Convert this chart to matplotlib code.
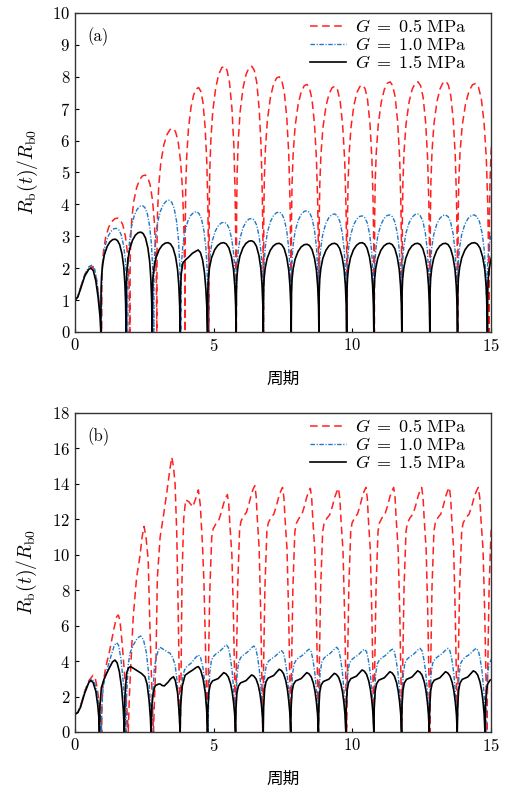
import matplotlib
matplotlib.use("Agg")
import matplotlib.pyplot as plt

plt.rcParams['mathtext.fontset'] = 'cm'
plt.rcParams['font.family'] = ['cmr10', 'DejaVu Serif']
plt.rcParams['axes.formatter.use_mathtext'] = True
plt.rcParams['lines.scale_dashes'] = False

labels = [r'$G\;=\;0.5\ \mathrm{MPa}$', r'$G\;=\;1.0\ \mathrm{MPa}$', r'$G\;=\;1.5\ \mathrm{MPa}$']
colors = ['#ff2020', '#1f78c8', '#000000']

# arch shapes: (fraction of cycle, value / peak)
shape_a = ([0, 0.01, 0.03, 0.07, 0.14, 0.25, 0.36, 0.47, 0.57, 0.66, 0.75, 0.84, 0.91, 0.955, 0.985, 1.0],
           [0, 0.45, 0.6, 0.72, 0.83, 0.92, 0.97, 0.995, 1.0, 0.985, 0.94, 0.84, 0.7, 0.52, 0.3, 0])
shape_a_shoulder = ([0, 0.01, 0.04, 0.1, 0.2, 0.3, 0.45, 0.6, 0.66, 0.74, 0.82, 0.89, 0.94, 0.975, 1.0],
                    [0, 0.45, 0.7, 0.84, 0.88, 0.91, 0.96, 0.99, 1.0, 0.97, 0.88, 0.72, 0.52, 0.3, 0])
shape_b_red = ([0, 0.03, 0.08, 0.15, 0.2, 0.3, 0.4, 0.5, 0.58, 0.65, 0.71, 0.76, 0.8, 0.87, 0.93, 0.97, 1.0],
               [0, 0.25, 0.59, 0.82, 0.855, 0.877, 0.891, 0.928, 0.964, 0.986, 1.0, 0.957, 0.87, 0.746, 0.471, 0.217, 0])
shape_b_blue = ([0, 0.02, 0.06, 0.12, 0.2, 0.3, 0.4, 0.5, 0.6, 0.67, 0.74, 0.8, 0.87, 0.93, 0.97, 1.0],
                [0, 0.35, 0.68, 0.82, 0.87, 0.9, 0.92, 0.95, 0.985, 1.0, 0.97, 0.88, 0.72, 0.5, 0.28, 0])
shape_b_black = ([0, 0.015, 0.05, 0.1, 0.18, 0.28, 0.38, 0.48, 0.58, 0.66, 0.74, 0.82, 0.88, 0.93, 0.97, 1.0],
                 [0, 0.4, 0.68, 0.8, 0.86, 0.88, 0.9, 0.95, 1.0, 0.98, 0.93, 0.82, 0.68, 0.5, 0.3, 0])

# ---- panel (a) ----
a_red_head_t = [0, 0.1, 0.2, 0.35, 0.5, 0.62, 0.7, 0.78, 0.85, 0.92, 0.96]
a_red_head_r = [1.0, 1.1, 1.4, 1.8, 2.0, 2.05, 1.95, 1.6, 1.1, 0.5, 0]
a_red_collapse = [0.96, 1.98, 2.95, 3.97, 4.83, 5.82, 6.80, 7.80, 8.80, 9.82, 10.80, 11.80, 12.81, 13.81, 14.94, 15.94]
a_red_peak = [3.57, 4.92, 6.38, 7.66, 8.33, 8.33, 8.0, 7.76, 7.7, 7.74, 7.84, 7.84, 7.86, 7.79, 7.8]

a_blue_head_t = [0, 0.1, 0.2, 0.35, 0.5, 0.62, 0.7, 0.78, 0.85, 0.91, 0.95]
a_blue_head_r = [1.0, 1.1, 1.4, 1.8, 2.05, 2.1, 2.0, 1.65, 1.15, 0.5, 0]
a_blue_collapse = [0.95, 1.9, 2.84, 3.82, 4.81, 5.82, 6.80, 7.80, 8.80, 9.80, 10.79, 11.79, 12.80, 13.80, 14.86, 15.86]
a_blue_peak = [3.25, 3.96, 4.13, 3.77, 3.44, 3.56, 3.76, 3.80, 3.70, 3.64, 3.67, 3.70, 3.67, 3.67, 3.67]

a_black_head_t = [0, 0.1, 0.2, 0.35, 0.5, 0.58, 0.66, 0.75, 0.83, 0.9, 0.93]
a_black_head_r = [1.0, 1.1, 1.35, 1.75, 1.97, 2.0, 1.92, 1.6, 1.1, 0.5, 0]
a_black_collapse = [0.93, 1.84, 2.78, 3.79, 4.78, 5.81, 6.79, 7.80, 8.80, 9.80, 10.78, 11.79, 12.80, 13.80, 14.88, 15.88]
a_black_peak = [2.91, 3.13, 2.80, 2.57, 2.80, 2.86, 2.78, 2.75, 2.78, 2.80, 2.78, 2.78, 2.78, 2.80, 2.8]
a_black_shoulder_arch = 3

# ---- panel (b) ----
b_red_head_t = [0, 0.1, 0.2, 0.35, 0.5, 0.65, 0.72, 0.8, 0.87, 0.92, 0.96,
                0.97, 1.0, 1.1, 1.25, 1.4, 1.5, 1.56, 1.62, 1.7, 1.78, 1.85, 1.9, 1.92,
                1.96, 2.02, 2.1, 2.22, 2.34, 2.42, 2.49, 2.56, 2.64, 2.7, 2.76, 2.83,
                2.87, 2.92, 2.97, 3.07, 3.19, 3.31, 3.42, 3.49, 3.55, 3.61, 3.67, 3.72, 3.76, 3.80,
                3.83, 3.86, 3.92, 3.99, 4.1, 4.25, 4.38, 4.45, 4.52, 4.6, 4.65, 4.72, 4.78]
b_red_head_r = [1.0, 1.1, 1.5, 2.3, 2.9, 3.2, 3.1, 2.5, 1.6, 0.8, 0,
                1.5, 2.6, 3.6, 4.6, 5.8, 6.5, 6.6, 6.3, 5.0, 3.4, 1.8, 0.6, 0,
                2.0, 4.0, 6.5, 8.7, 9.9, 11.0, 11.6, 11.0, 9.7, 6.0, 3.0, 0,
                2.0, 4.0, 8.7, 11.0, 12.2, 13.5, 14.8, 15.5, 15.0, 14.0, 11.2, 7.0, 2.9, 0,
                4.0, 8.7, 12.0, 13.1, 13.0, 12.7, 13.3, 13.66, 12.8, 10.5, 8.5, 4.0, 0]
b_red_collapse = [4.78, 5.79, 6.77, 7.78, 8.78, 9.80, 10.78, 11.79, 12.80, 13.79, 14.86, 15.86]
b_red_peak = [13.4, 13.9, 13.8, 13.75, 13.75, 13.8, 13.8, 13.8, 13.8, 13.8, 13.8]

b_blue_head_t = [0, 0.1, 0.2, 0.35, 0.5, 0.6, 0.7, 0.8, 0.87, 0.92, 0.95,
                 0.97, 1.02, 1.15, 1.3, 1.42, 1.5, 1.57, 1.65, 1.73, 1.8, 1.84,
                 1.86, 1.92, 1.98, 2.1, 2.25, 2.37, 2.47, 2.57, 2.65, 2.72, 2.77,
                 2.8, 2.86, 2.93, 3.0, 3.07, 3.2, 3.35, 3.43, 3.52, 3.61, 3.68, 3.73, 3.79,
                 3.82, 3.88, 3.95, 4.03, 4.2, 4.35, 4.45, 4.53, 4.62, 4.7, 4.76, 4.8]
b_blue_head_r = [1.0, 1.1, 1.5, 2.3, 2.85, 3.0, 2.8, 2.2, 1.3, 0.5, 0,
                 1.5, 2.6, 3.5, 4.3, 4.9, 5.04, 4.9, 4.2, 3.0, 1.5, 0,
                 2.0, 3.8, 4.44, 4.9, 5.3, 5.42, 5.2, 4.5, 3.4, 1.5, 0,
                 2.0, 3.6, 4.2, 4.6, 4.78, 4.65, 4.5, 4.44, 4.2, 3.8, 2.9, 1.8, 0,
                 2.0, 3.1, 3.5, 3.69, 3.9, 4.2, 4.35, 4.2, 3.6, 2.5, 1.2, 0]
b_blue_collapse = [4.8, 5.79, 6.78, 7.78, 8.78, 9.77, 10.78, 11.78, 12.78, 13.79, 14.82, 15.82]
b_blue_peak = [4.91, 4.85, 4.59, 4.67, 4.78, 4.67, 4.67, 4.72, 4.72, 4.72, 4.7]

b_black_head_t = [0, 0.1, 0.2, 0.35, 0.5, 0.57, 0.65, 0.75, 0.82, 0.86, 0.88,
                  0.9, 0.95, 1.05, 1.2, 1.35, 1.44, 1.52, 1.6, 1.68, 1.74, 1.78,
                  1.8, 1.86, 1.92, 2.0, 2.1, 2.25, 2.4, 2.52, 2.6, 2.67, 2.72, 2.74,
                  2.77, 2.83, 2.89, 3.0, 3.07, 3.15, 3.22, 3.35, 3.45, 3.55, 3.62, 3.7, 3.76, 3.79,
                  3.81, 3.87, 3.97, 4.1, 4.25, 4.38, 4.45, 4.53, 4.62, 4.7, 4.75, 4.78]
b_black_head_r = [1.0, 1.1, 1.4, 2.2, 2.8, 2.9, 2.8, 2.3, 1.5, 0.8, 0,
                  1.5, 2.5, 3.0, 3.5, 3.95, 4.06, 3.9, 3.4, 2.5, 1.3, 0,
                  2.0, 3.3, 3.6, 3.69, 3.6, 3.45, 3.3, 3.12, 2.7, 1.8, 0.8, 0,
                  1.5, 2.3, 2.6, 2.7, 2.71, 2.62, 2.6, 2.8, 3.0, 3.12, 2.9, 2.2, 1.0, 0,
                  1.5, 2.6, 3.2, 3.35, 3.5, 3.65, 3.69, 3.5, 3.0, 2.2, 1.2, 0]
b_black_collapse = [4.78, 5.79, 6.79, 7.78, 8.78, 9.77, 10.78, 11.78, 12.78, 13.79, 14.79, 15.8]
b_black_peak = [3.35, 3.22, 3.54, 3.35, 3.31, 3.5, 3.4, 3.45, 3.4, 3.45, 3.4]


def build(head_t, head_r, collapse, peaks, shapes):
    t = list(head_t)
    r = list(head_r)
    for i, (t0, t1, p) in enumerate(zip(collapse[:-1], collapse[1:], peaks)):
        fr, rel = shapes[i] if isinstance(shapes, list) else shapes
        t += [t0 + f * (t1 - t0) for f in fr[1:]]
        r += [p * v for v in rel[1:]]
    return t, r


black_a_shapes = [shape_a] * len(a_black_peak)
black_a_shapes[a_black_shoulder_arch] = shape_a_shoulder

panel_a = [build(a_red_head_t, a_red_head_r, a_red_collapse, a_red_peak, shape_a),
           build(a_blue_head_t, a_blue_head_r, a_blue_collapse, a_blue_peak, shape_a),
           build(a_black_head_t, a_black_head_r, a_black_collapse, a_black_peak, black_a_shapes)]
panel_b = [build(b_red_head_t, b_red_head_r, b_red_collapse, b_red_peak, shape_b_red),
           build(b_blue_head_t, b_blue_head_r, b_blue_collapse, b_blue_peak, shape_b_blue),
           build(b_black_head_t, b_black_head_r, b_black_collapse, b_black_peak, shape_b_black)]

styles = [dict(linestyle=(0, (5.5, 3.2)), lw=1.1),
          dict(linestyle=(0, (3.2, 1.2, 0.8, 1.2)), lw=1.0),
          dict(linestyle='-', lw=1.2)]

fig = plt.figure(figsize=(5.07, 7.91), dpi=100)
ax1 = fig.add_axes([0.148, 0.5803, 0.820, 0.4033])
ax2 = fig.add_axes([0.148, 0.0746, 0.820, 0.4033])

for ax, curves, ymax, ystep, tag in [(ax1, panel_a, 10, 1, '(a)'), (ax2, panel_b, 18, 2, '(b)')]:
    for (t, r), lab, c, st in zip(curves, labels, colors, styles):
        ax.plot(t, r, color=c, label=lab, **st)
    ax.set_xlim(0, 15)
    ax.set_ylim(0, ymax)
    ax.set_xticks([0, 5, 10, 15])
    ax.set_yticks(range(0, ymax + 1, ystep))
    ax.tick_params(direction='in', length=3, labelsize=12, top=False, right=False)
    for s in ax.spines.values():
        s.set_color('#333333')
        s.set_linewidth(1.0)
    ax.set_ylabel(r'$R_{\mathrm{b}}(t)/R_{\mathrm{b0}}$', fontsize=14, labelpad=9)
    ax.set_xlabel('周期', fontsize=12, family=['Noto Sans CJK SC'], labelpad=12)
    ax.text(0.03, 0.955, tag, transform=ax.transAxes, fontsize=12, va='top')
    ax.legend(loc='upper right', frameon=False, fontsize=13, handlelength=2.0,
              labelspacing=0.05, borderaxespad=0.1, borderpad=0.2,
              handletextpad=0.5, bbox_to_anchor=(0.955, 1.0))

fig.savefig('out.png', dpi=100)
